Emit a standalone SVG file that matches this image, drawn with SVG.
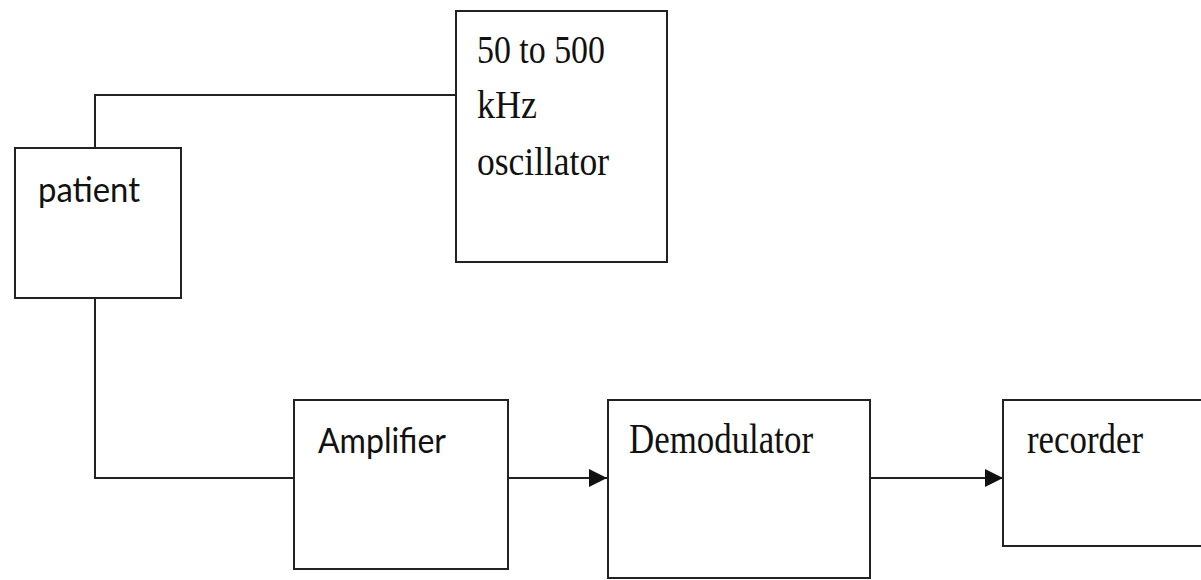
<svg xmlns="http://www.w3.org/2000/svg" width="1201" height="580" viewBox="0 0 1201 580">
<style>
.box{fill:#fff;stroke:#222;stroke-width:2}
.wire{fill:none;stroke:#222;stroke-width:2}
.serif{font-family:"Liberation Serif","Times New Roman",serif;font-size:40px;fill:#111}
.big{font-size:42px}
.sans{font-family:Lato,"Open Sans","Liberation Sans",sans-serif;font-size:35px;fill:#111}
</style>
<rect width="1201" height="580" fill="#fff"/>
<g id="connectors">
<polyline class="wire" points="95,148 95,95 456,95"/>
<polyline class="wire" points="95,298 95,478 294,478"/>
<line class="wire" x1="508" y1="478" x2="607" y2="478"/>
<path d="M589,469 L607,478 L589,487 z" fill="#111"/>
<line class="wire" x1="870" y1="478" x2="1002" y2="478"/>
<path d="M985,469 L1003,478 L985,487 z" fill="#111"/>
</g>
<g id="oscillator">
<rect class="box" x="456" y="11" width="211" height="251"/>
<text class="serif" x="477" y="63" textLength="128" lengthAdjust="spacingAndGlyphs">50 to 500</text>
<text class="serif" x="477" y="118" textLength="60" lengthAdjust="spacingAndGlyphs">kHz</text>
<text class="serif" x="477" y="175" textLength="132" lengthAdjust="spacingAndGlyphs">oscillator</text>
</g>
<g id="patient">
<rect class="box" x="15" y="148" width="166" height="150"/>
<text class="sans" x="38" y="202" textLength="102" lengthAdjust="spacingAndGlyphs">patient</text>
</g>
<g id="amplifier">
<rect class="box" x="294" y="400" width="214" height="169"/>
<text class="sans" x="318" y="453" textLength="128" lengthAdjust="spacingAndGlyphs">Amplifier</text>
</g>
<g id="demodulator">
<rect class="box" x="608" y="400" width="262" height="178"/>
<text class="serif big" x="629" y="453" textLength="184" lengthAdjust="spacingAndGlyphs">Demodulator</text>
</g>
<g id="recorder">
<rect class="box" x="1003" y="400" width="210" height="146"/>
<text class="serif big" x="1027" y="453" textLength="116" lengthAdjust="spacingAndGlyphs">recorder</text>
</g>
</svg>
